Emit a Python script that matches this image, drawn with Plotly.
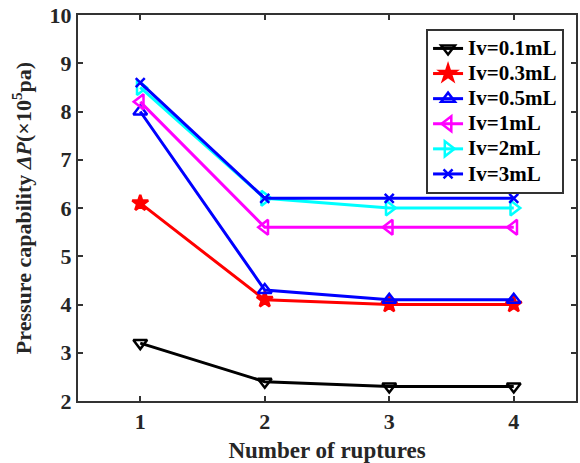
import plotly.graph_objects as go

ruptures = [1, 2, 3, 4]
series_names = ["Iv=0.1mL", "Iv=0.3mL", "Iv=0.5mL", "Iv=1mL", "Iv=2mL", "Iv=3mL"]
iv_01 = [3.2, 2.4, 2.3, 2.3]
iv_03 = [6.1, 4.1, 4.0, 4.0]
iv_05 = [8.0, 4.3, 4.1, 4.1]
iv_1 = [8.2, 5.6, 5.6, 5.6]
iv_2 = [8.5, 6.2, 6.0, 6.0]
iv_3 = [8.6, 6.2, 6.2, 6.2]
values = [iv_01, iv_03, iv_05, iv_1, iv_2, iv_3]
colors = ["#000000", "#FF0000", "#0000FF", "#FF00FF", "#00FFFF", "#0000FF"]
symbols = ["triangle-down-open", "star", "triangle-up-open", "triangle-left-open",
           "triangle-right-open", "x-thin"]
sizes = [12, 12, 12, 13, 13, 9]

fig = go.Figure()
for name, y, c, s, sz in zip(series_names, values, colors, symbols, sizes):
    fig.add_trace(go.Scatter(
        x=ruptures, y=y,
        name='<span style="font-size:21px">' + name + '</span>',
        mode="lines+markers",
        line=dict(color=c, width=3),
        marker=dict(symbol=s, size=sz, color=c, line=dict(color=c, width=2.5)),
    ))

font_family = "Liberation Serif, Times New Roman, serif"
axis_common = dict(
    showline=True, linecolor="#333333", linewidth=2, mirror="ticks",
    ticks="inside", ticklen=5, tickwidth=2, tickcolor="#333333",
    showgrid=False, zeroline=False,
    tickfont=dict(family=font_family, size=22, color="#262626", weight="bold"),
)
fig.update_layout(
    width=580, height=463,
    margin=dict(l=78, r=2, t=15, b=61),
    paper_bgcolor="white", plot_bgcolor="white",
    font=dict(family=font_family, color="#262626"),
    xaxis=dict(range=[0.5, 4.5], tickvals=[1, 2, 3, 4],
               title=dict(text="Number of ruptures",
                          font=dict(size=23, weight="bold"), standoff=10),
               **axis_common),
    yaxis=dict(range=[2, 10], tickvals=[2, 3, 4, 5, 6, 7, 8, 9, 10],
               title=dict(text="Pressure capability <i>ΔP</i>(×10<sup>5</sup>pa)",
                          font=dict(size=22, weight="bold"), standoff=12),
               **axis_common),
    legend=dict(x=0.976, y=0.964, xanchor="right", yanchor="top",
                bgcolor="white", bordercolor="#333333", borderwidth=2,
                font=dict(family=font_family, size=17, color="#000000", weight="bold"),
                tracegroupgap=0, itemwidth=30),
    showlegend=True,
)
fig.write_html("out.html")
